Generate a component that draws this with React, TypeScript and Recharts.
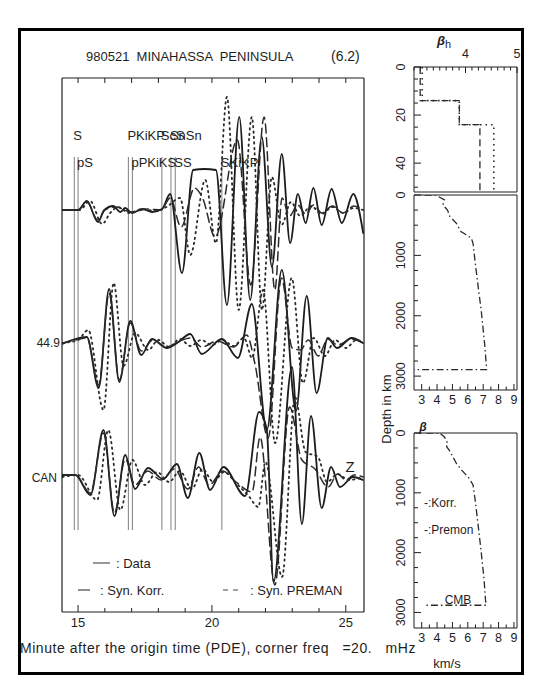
import React from "react";
import {
  LineChart,
  Line,
  XAxis,
  YAxis,
  ReferenceLine,
  ReferenceDot,
  Legend,
  ScatterChart,
  Scatter,
} from "recharts";

const FONT = '"Liberation Sans", "DejaVu Sans", Arial, sans-serif';
const INK = "#1e1e1e";

// seismogram window, minutes after origin time
const timeDomain = [14.4, 25.68];
const minuteTicks = [15, 16, 17, 18, 19, 20, 21, 22, 23, 24, 25];
const minuteLabels = [15, 20, 25];

// y axis of the seismogram panel runs 0..534, traces are stacked on these baselines
const traceBase = [402, 269, 135];

// [minute, amplitude] extrema of each trace
const topData = [
  [14.41, 0], [15.0, 0], [15.33, 9], [15.74, -12], [15.98, 0], [16.31, 4], [16.58, -2],
  [16.76, 2], [17.02, -3], [17.4, 1], [17.77, -2], [18.14, 1], [18.44, 16], [18.88, -63],
  [19.3, 40], [19.72, 41], [20.15, 40], [20.56, -95], [21.02, 93], [21.43, -90], [21.86, 73],
  [22.24, -57], [22.61, 56], [22.92, -33], [23.21, 16], [23.5, -13], [23.79, 22], [24.1, -15],
  [24.47, 21], [24.85, -13], [25.28, 16], [25.65, -23],
];
const topKorr = [
  [14.41, 0], [15.0, 0], [15.33, 8], [15.74, -10], [16.0, 0], [16.4, 3], [17.0, -2], [17.6, 1],
  [18.1, 0], [18.44, 12], [18.85, -17], [19.35, 22], [19.65, 12], [20.12, -27], [20.95, 70],
  [21.45, -75], [21.95, 93], [22.35, -80], [22.62, 12], [22.9, -6], [23.2, 5], [23.5, -4],
  [23.8, 5], [24.1, -3], [24.5, 4], [24.9, -3], [25.3, 4], [25.65, 0],
];
const topPreman = [
  [14.41, 0], [15.05, 0], [15.45, 9], [15.9, -14], [16.2, -3], [16.5, 3], [16.9, -3], [17.4, 1],
  [17.9, -1], [18.3, 3], [18.81, 12], [19.19, -45], [19.75, 30], [20.15, -33], [20.56, 113],
  [21.0, -100], [21.49, 93], [21.87, -100], [22.24, 33], [22.6, -15], [22.95, 8], [23.3, -6],
  [23.7, 4], [24.1, -4], [24.5, 3], [24.9, -3], [25.3, 2], [25.65, 0],
];

const midData = [
  [14.41, -1], [14.9, 4], [15.33, 6], [15.77, -45], [16.16, 54], [16.54, -39], [16.95, 22],
  [17.36, -12], [17.76, 4], [18.32, -5], [18.7, 0], [19.19, 9], [19.62, -11], [20.37, 4],
  [20.97, -15], [21.49, 39], [22.05, -87], [22.61, 73], [23.14, -68], [23.54, 47], [23.91, -50],
  [24.33, 5], [24.67, -5], [25.22, 5], [25.64, 0],
];
const midKorr = [
  [14.41, 0], [14.9, 3], [15.33, 5], [15.77, -42], [16.16, 50], [16.54, -37], [16.95, 20],
  [17.36, -8], [17.8, 3], [18.3, -4], [18.8, 2], [19.2, 5], [19.62, -4], [20.2, 2], [20.8, -4],
  [21.3, 8], [21.6, -20], [22.1, -95], [22.6, 65], [23.0, -5], [23.3, -7], [23.6, 3],
  [23.97, -13], [24.33, 4], [24.7, -2], [25.2, 4], [25.65, 0],
];
const midPreman = [
  [14.41, 0], [15.0, 3], [15.38, 13], [15.95, -67], [16.33, 60], [16.7, -23], [17.13, 10],
  [17.62, -7], [18.0, 3], [18.4, -4], [18.8, 4], [19.2, -3], [19.6, 3], [20.0, -2], [20.4, 3],
  [20.8, -3], [21.2, 5], [21.5, -15], [21.91, 53], [22.36, -100], [22.98, 65], [23.4, -40],
  [23.8, 5], [24.22, -13], [24.6, 3], [25.0, -5], [25.4, 3], [25.65, 0],
];

const botData = [
  [14.41, 2], [14.9, 2], [15.46, -18], [15.95, 47], [16.36, -39], [16.76, 22], [17.13, -12],
  [17.61, 9], [18.18, -2], [18.69, 13], [19.1, -21], [19.53, 24], [19.93, -13], [20.43, 10],
  [21.24, -19], [21.76, 65], [22.05, 47], [22.3, -105], [22.99, 110], [23.36, -47], [23.7, 61],
  [24.1, -31], [24.45, 10], [24.78, -10], [25.27, 0], [25.64, -3],
];
const botKorr = [
  [14.41, 2], [14.9, 2], [15.46, -16], [15.95, 44], [16.36, -36], [16.76, 18], [17.13, -8],
  [17.6, 6], [18.1, -3], [18.6, 8], [19.1, -12], [19.5, 10], [19.9, -8], [20.4, 6], [20.9, -5],
  [21.5, -15], [21.8, 40], [22.35, -108], [22.9, 70], [23.36, 17], [23.85, 8], [24.34, -10],
  [24.7, 3], [25.0, -3], [25.3, 2], [25.65, 0],
];
const botPreman = [
  [14.41, 0], [15.0, 2], [15.71, -23], [16.13, 47], [16.58, -33], [17.03, 17], [17.5, -8],
  [17.95, 5], [18.4, -5], [18.8, 6], [19.25, -12], [19.65, 8], [20.05, -5], [20.45, 5],
  [20.9, -6], [21.4, -20], [21.73, -30], [22.0, 15], [22.62, -100], [23.1, 80], [23.5, 25],
  [23.96, 20], [24.3, -5], [24.7, 3], [25.1, -3], [25.65, 0],
];

// phase arrivals
const phaseNames = ["S", "pS", "PKiKP", "pPKiKS", "ScS", "SnSn", "SS", "SKiKP"];
const phaseTimes = [14.86, 15.0, 16.88, 17.03, 18.13, 18.47, 18.63, 20.37];
const phaseRows = [0, 1, 0, 1, 0, 0, 1, 1];

// shear velocity profiles: beta (km/s) against depth (km)
const crustKorrV = [3.12, 3.12, 3.88, 3.88, 4.28, 4.28];
const crustKorrD = [0, 14, 14, 24, 24, 52];
const crustPremV = [3.16, 3.16, 3.88, 3.88, 4.55, 4.55];
const crustPremD = [0, 14, 14, 24, 24, 52];
const mantleV = [3.2, 3.9, 4.48, 4.38, 4.68, 4.84, 5.26, 5.55, 5.9, 6.23, 6.34, 6.45, 6.66, 6.88, 7.1, 7.2, 7.22, 2.5];
const mantleD = [0, 0, 80, 165, 250, 360, 470, 605, 660, 715, 800, 1050, 1490, 1930, 2480, 2810, 2891, 2891];
const lowerV = [3.3, 4.16, 4.48, 4.7, 4.62, 4.8, 5.26, 5.6, 6.1, 6.34, 6.45, 6.66, 6.88, 7.06, 7.15, 7.2, 3.3];
const lowerD = [0, 0, 67, 178, 230, 290, 510, 620, 760, 870, 1065, 1510, 2010, 2455, 2790, 2880, 2880];

const crustVTicks = [3, 3.125, 3.25, 3.375, 3.5, 3.625, 3.75, 3.875, 4, 4.125, 4.25, 4.375, 4.5, 4.625, 4.75, 4.875, 5];
const crustVLabels = [4, 5];
const crustDTicks = [0, 5, 10, 15, 20, 25, 30, 35, 40, 45, 50];
const crustDLabels = [0, 20, 40];
const mantleVTicks = [3, 3.5, 4, 4.5, 5, 5.5, 6, 6.5, 7, 7.5, 8, 8.5, 9];
const mantleVLabels = [3, 4, 5, 6, 7, 8, 9];
const mantleDTicks = [0, 250, 500, 750, 1000, 1250, 1500, 1750, 2000, 2250, 2500, 2750, 3000];
const mantleDLabels = [0, 1000, 2000, 3000];

const toTrace = (arr: number[][], base: number) => arr.map(([t, a]) => ({ t, y: base + a }));
const toProfile = (v: number[], d: number[]) => v.map((x, i) => ({ v: x, d: d[i] }));

const traces = [
  [topData, topKorr, topPreman],
  [midData, midKorr, midPreman],
  [botData, botKorr, botPreman],
].map((set, i) => set.map((s) => toTrace(s, traceBase[i])));

const seriesStyle = [
  { stroke: "#1c1c1c", strokeWidth: 1.8, strokeDasharray: undefined as string | undefined },
  { stroke: "#2a2a2a", strokeWidth: 1.5, strokeDasharray: "9 5" },
  { stroke: "#2a2a2a", strokeWidth: 1.8, strokeDasharray: "1.5 4" },
];

const BottomTick = (props: any) => {
  const { x, y, payload } = props;
  const major = minuteLabels.includes(payload.value);
  return (
    <g>
      <line x1={x} x2={x} y1={y} y2={y - (major ? 7 : 4)} stroke={INK} strokeWidth={1} />
      {major && (
        <text x={x} y={y + 15} textAnchor="middle" fontSize={13} fontFamily={FONT} fill={INK}>
          {payload.value}
        </text>
      )}
    </g>
  );
};

const TopTick = (props: any) => {
  const { x, y } = props;
  return <line x1={x} x2={x} y1={y} y2={y + 5} stroke={INK} strokeWidth={1} />;
};

const renderLegend = () => (
  <svg width={300} height={56} style={{ fontFamily: FONT }}>
    <line x1={31} x2={48} y1={16} y2={16} stroke="#555" strokeWidth={1.2} />
    <text x={54} y={20.5} fontSize={13} fill={INK}>: Data</text>
    <line x1={16} x2={28} y1={43} y2={43} stroke="#444" strokeWidth={1.2} />
    <text x={38} y={47.5} fontSize={13} fill={INK}>: Syn. Korr.</text>
    <line x1={161} x2={180} y1={43} y2={43} stroke="#444" strokeWidth={1.2} strokeDasharray="5 5" />
    <text x={188} y={47.5} fontSize={13} fill={INK}>: Syn. PREMAN</text>
  </svg>
);

const Blank = () => <g />;

type Series = { pts: { v: number; d: number }[]; dash: string; width: number };

function ProfilePanel(p: {
  left: number; top: number; width: number; height: number;
  vDomain: number[]; vTicks: number[]; vLabels: number[]; vOnTop: boolean;
  dDomain: number[]; dTicks: number[]; dLabels: number[]; series: Series[];
}) {
  // plot offsets inside the chart; every axis band is 1px wide
  const m = { top: 22, right: 8, bottom: 30, left: 28 };
  const DepthTick = (props: any) => {
    const { x, y, payload } = props;
    const major = p.dLabels.includes(payload.value);
    return (
      <g>
        <line x1={x} x2={x + (major ? 7 : 4)} y1={y} y2={y} stroke={INK} strokeWidth={1} />
        {major && (
          <text x={x - 9} y={y} transform={`rotate(-90 ${x - 9} ${y})`} textAnchor="middle"
            fontSize={12.5} fontFamily={FONT} fill={INK}>
            {payload.value}
          </text>
        )}
      </g>
    );
  };
  const VelTick = (props: any) => {
    const { x, y, payload } = props;
    const major = p.vLabels.includes(payload.value);
    const dir = p.vOnTop ? 1 : -1;
    return (
      <g>
        <line x1={x} x2={x} y1={y} y2={y + dir * (major ? 6 : 3.5)} stroke={INK} strokeWidth={1} />
        {major && (
          <text x={x} y={p.vOnTop ? y - 9 : y + 14} textAnchor="middle" fontSize={12.5}
            fontFamily={FONT} fill={INK}>
            {payload.value}
          </text>
        )}
      </g>
    );
  };
  const axisLine = { stroke: INK, strokeWidth: 1 };
  return (
    <div style={{ position: "absolute", left: p.left - m.left, top: p.top - m.top }}>
      <ScatterChart width={p.width + m.left + m.right} height={p.height + m.top + m.bottom}
        margin={{ top: m.top - 1, right: m.right - 1, bottom: m.bottom - 1, left: m.left - 1 }}>
        <XAxis type="number" dataKey="v" domain={p.vDomain} allowDataOverflow height={1}
          ticks={p.vOnTop ? undefined : p.vTicks} interval={0} tickSize={0} tickMargin={0}
          tickLine={false} tick={p.vOnTop ? false : VelTick} axisLine={axisLine} />
        <XAxis xAxisId="t" orientation="top" type="number" dataKey="v" domain={p.vDomain}
          allowDataOverflow height={1} ticks={p.vOnTop ? p.vTicks : undefined} interval={0}
          tickSize={0} tickMargin={0} tickLine={false} tick={p.vOnTop ? VelTick : false}
          axisLine={axisLine} />
        <YAxis type="number" dataKey="d" domain={p.dDomain} reversed allowDataOverflow width={1}
          ticks={p.dTicks} interval={0} tickSize={0} tickMargin={0} tickLine={false}
          tick={DepthTick} axisLine={axisLine} />
        <YAxis yAxisId="r" orientation="right" type="number" dataKey="d" domain={p.dDomain}
          reversed allowDataOverflow width={1} tick={false} tickLine={false} axisLine={axisLine} />
        {p.series.map((s, i) => (
          <Scatter key={i} data={s.pts} fill="none" shape={Blank} lineType="joint"
            line={{ stroke: "#2a2a2a", strokeWidth: s.width, strokeDasharray: s.dash }}
            isAnimationActive={false} />
        ))}
      </ScatterChart>
    </div>
  );
}

const Txt = (p: {
  x: number; y: number; children: React.ReactNode; anchor?: "start" | "middle" | "end";
  size?: number; rotate?: number; weight?: number; italic?: boolean; spacing?: number;
}) => {
  const tx = p.anchor === "middle" ? "-50%" : p.anchor === "end" ? "-100%" : "0";
  return (
    <div style={{
      position: "absolute", left: p.x, top: p.y,
      transform: `translate(${tx}, -50%) rotate(${p.rotate || 0}deg)`,
      fontSize: p.size || 13, lineHeight: 1, whiteSpace: "pre", color: INK,
      fontWeight: p.weight || 400, fontStyle: p.italic ? "italic" : "normal",
      letterSpacing: p.spacing || 0,
    }}>
      {p.children}
    </div>
  );
};

export default function App() {
  return (
    <div style={{ position: "absolute", left: 0, top: 0, width: 539, height: 696, background: "#fff", fontFamily: FONT, overflow: "hidden" }}>
      <div style={{ position: "absolute", left: 52, top: 68 }}>
        <LineChart width={322} height={574} margin={{ top: 9, right: 9, bottom: 29, left: 9 }}>
          <XAxis type="number" dataKey="t" domain={timeDomain} allowDataOverflow ticks={minuteTicks}
            interval={0} height={1} tickSize={0} tickMargin={0} tickLine={false} tick={BottomTick}
            axisLine={{ stroke: INK, strokeWidth: 1.2 }} />
          <XAxis xAxisId="t" orientation="top" type="number" dataKey="t" domain={timeDomain}
            allowDataOverflow ticks={minuteTicks} interval={0} height={1} tickSize={0} tickMargin={0}
            tickLine={false} tick={TopTick} axisLine={{ stroke: INK, strokeWidth: 1.2 }} />
          <YAxis type="number" domain={[0, 534]} allowDataOverflow width={1} tick={false}
            tickLine={false} axisLine={{ stroke: INK, strokeWidth: 1.2 }} />
          <YAxis yAxisId="r" orientation="right" type="number" domain={[0, 534]} allowDataOverflow
            width={1} tick={false} tickLine={false} axisLine={{ stroke: INK, strokeWidth: 1.2 }} />
          {phaseTimes.map((t, i) => (
            <ReferenceLine key={"ph" + i} segment={[{ x: t, y: 82 }, { x: t, y: 455 }]}
              stroke="#8a8a8a" strokeWidth={1.1} />
          ))}
          {phaseNames.map((n, i) => (
            <ReferenceDot key={"pn" + i} x={phaseTimes[i]} y={phaseRows[i] ? 450 : 477} r={0}
              fill="none" stroke="none"
              label={{ value: n, position: "right", offset: -1, fill: INK, fontSize: 13, fontFamily: FONT }} />
          ))}
          {traces.map((set, i) =>
            set.map((pts, j) => (
              <Line key={`tr${i}-${j}`} data={pts} dataKey="y" type="monotone" dot={false}
                activeDot={false} isAnimationActive={false} stroke={seriesStyle[j].stroke}
                strokeWidth={seriesStyle[j].strokeWidth} strokeDasharray={seriesStyle[j].strokeDasharray}
                strokeLinecap="round" />
            ))
          )}
          <Legend layout="horizontal" verticalAlign="middle" align="center" content={renderLegend}
            wrapperStyle={{ position: "absolute", left: 10, top: 479, width: 300, height: 56 }} />
        </LineChart>
      </div>

      <ProfilePanel left={414} top={67} width={103} height={125}
        vDomain={[3, 5]} vTicks={crustVTicks} vLabels={crustVLabels} vOnTop
        dDomain={[0, 52]} dTicks={crustDTicks} dLabels={crustDLabels}
        series={[
          { pts: toProfile(crustKorrV, crustKorrD), dash: "7 4", width: 1.3 },
          { pts: toProfile(crustPremV, crustPremD), dash: "1.5 4", width: 1.6 },
        ]} />
      <ProfilePanel left={414} top={195} width={103} height={195}
        vDomain={[2.5, 9.2]} vTicks={mantleVTicks} vLabels={mantleVLabels} vOnTop={false}
        dDomain={[0, 3230]} dTicks={mantleDTicks} dLabels={mantleDLabels}
        series={[{ pts: toProfile(mantleV, mantleD), dash: "7 3 1.5 3", width: 1.3 }]} />
      <ProfilePanel left={414} top={433} width={103} height={195}
        vDomain={[2.5, 9.2]} vTicks={mantleVTicks} vLabels={mantleVLabels} vOnTop={false}
        dDomain={[0, 3260]} dTicks={mantleDTicks} dLabels={mantleDLabels}
        series={[{ pts: toProfile(lowerV, lowerD), dash: "7 3 1.5 3", width: 1.3 }]} />

      <Txt x={86} y={56}>980521  MINAHASSA  PENINSULA</Txt>
      <Txt x={331} y={56} size={14}>(6.2)</Txt>
      <Txt x={60} y={343} anchor="end" size={12}>44.9</Txt>
      <Txt x={57} y={478} anchor="end" size={12}>CAN</Txt>
      <Txt x={350} y={466} anchor="middle" size={15}>Z</Txt>
      <Txt x={20} y={648} size={14} spacing={0.55}>Minute after the origin time (PDE), corner freq   =20.   mHz</Txt>
      <Txt x={444} y={40} anchor="middle" size={13}>
        <span style={{ fontWeight: 700, fontStyle: "italic" }}>β</span>
        <span style={{ fontSize: 11, position: "relative", top: 3 }}>h</span>
      </Txt>
      <Txt x={386} y={409} anchor="middle" rotate={-90} size={13}>Depth in km</Txt>
      <Txt x={423} y={427} anchor="middle" size={12} weight={700} italic>β</Txt>
      <Txt x={424} y={503} size={12}>-:Korr.</Txt>
      <Txt x={424} y={530} size={12}>-:Premon</Txt>
      <Txt x={458} y={600} anchor="middle" size={12}>CMB</Txt>
      <Txt x={447} y={663} anchor="middle" size={13}>km/s</Txt>

      <div style={{ position: "absolute", left: 18, top: 28, width: 506, height: 647, border: "3px solid #000", boxSizing: "border-box" }} />
    </div>
  );
}
